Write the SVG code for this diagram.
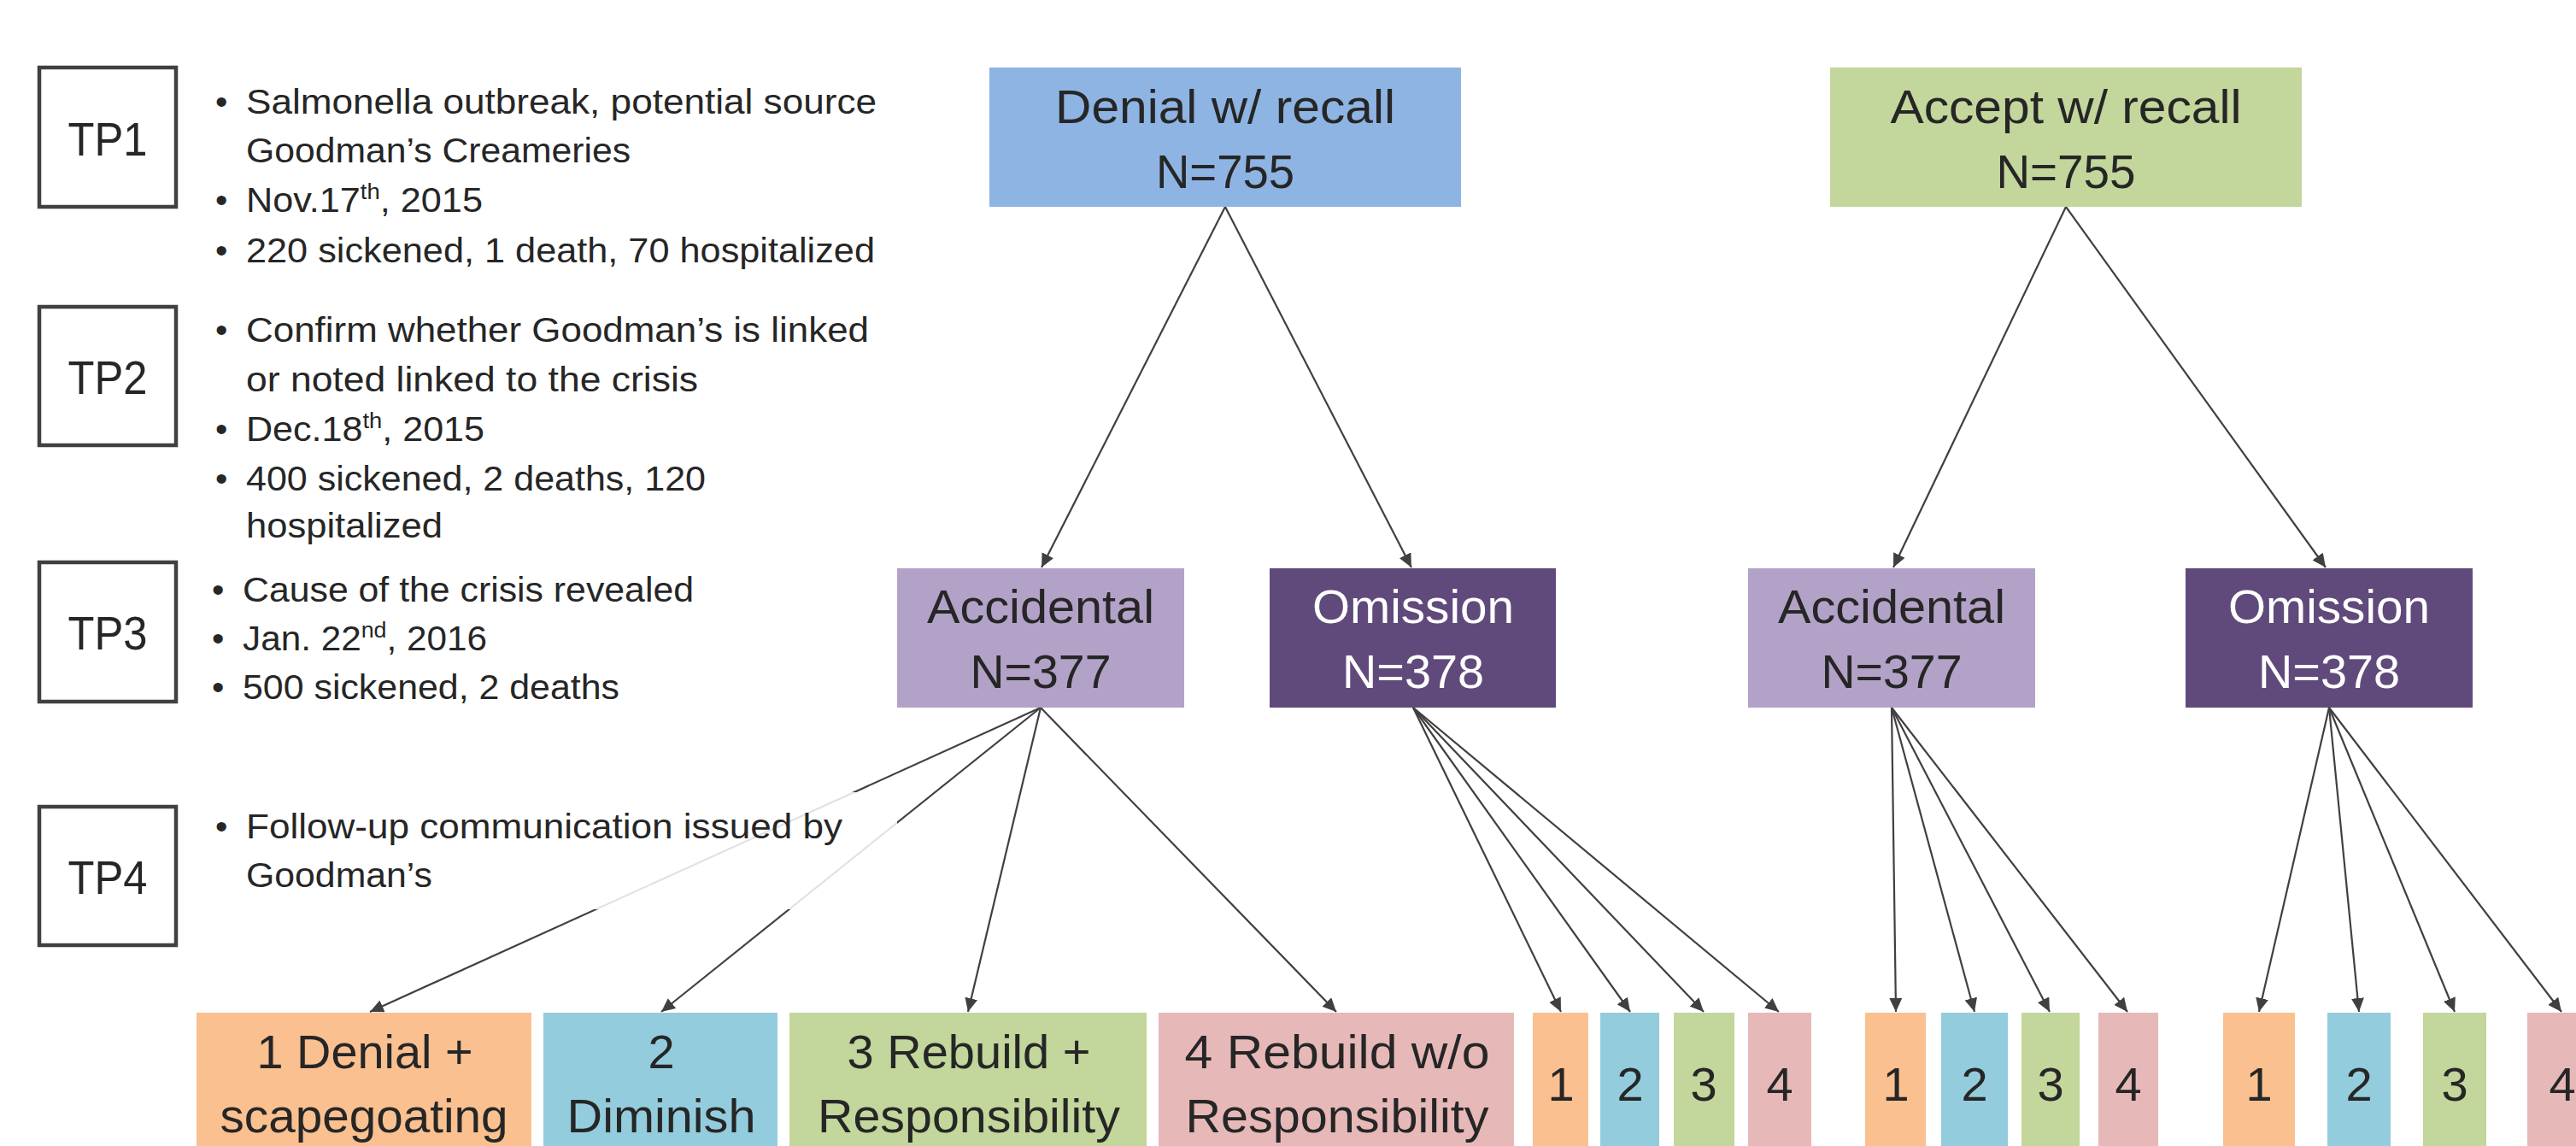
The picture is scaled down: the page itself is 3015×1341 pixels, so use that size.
<svg xmlns="http://www.w3.org/2000/svg" width="3015" height="1341" viewBox="0 0 3015 1341">
<defs>
<marker id="ah" markerUnits="userSpaceOnUse" markerWidth="16" markerHeight="15" refX="16" refY="7.5" orient="auto">
<path d="M0,0 L16,7.5 L0,15 z" fill="#404040"/>
</marker>
<style>
text{font-family:"Liberation Sans",Arial,sans-serif;fill:#262626}
.tp{font-size:56px;text-anchor:middle}
.tpbox{fill:none;stroke:#404040;stroke-width:4.5}
.b{font-size:41px}
.sup{font-size:26px}
.n{font-size:56px;text-anchor:middle}
.w{fill:#ffffff}
.con line{stroke:#404040;stroke-width:2.2;marker-end:url(#ah)}
</style>
</defs>
<rect width="3015" height="1341" fill="#ffffff"/>

<g id="connectors" class="con">
<line x1="1434" y1="242" x2="1219" y2="664"/>
<line x1="1434" y1="242" x2="1652" y2="664"/>
<line x1="2418" y1="242" x2="2216" y2="664"/>
<line x1="2418" y1="242" x2="2722" y2="664"/>
<line x1="1218" y1="828" x2="433" y2="1184"/>
<line x1="1218" y1="828" x2="774" y2="1184"/>
<line x1="1218" y1="828" x2="1133" y2="1184"/>
<line x1="1218" y1="828" x2="1564" y2="1184"/>
<line x1="1654" y1="828" x2="1827" y2="1184"/>
<line x1="1654" y1="828" x2="1908" y2="1184"/>
<line x1="1654" y1="828" x2="1994" y2="1184"/>
<line x1="1654" y1="828" x2="2082" y2="1184"/>
<line x1="2214" y1="828" x2="2219" y2="1184"/>
<line x1="2214" y1="828" x2="2311" y2="1184"/>
<line x1="2214" y1="828" x2="2399" y2="1184"/>
<line x1="2214" y1="828" x2="2490" y2="1184"/>
<line x1="2726" y1="828" x2="2644" y2="1184"/>
<line x1="2726" y1="828" x2="2761" y2="1184"/>
<line x1="2726" y1="828" x2="2873" y2="1184"/>
<line x1="2726" y1="828" x2="2998" y2="1184"/>
</g>

<g id="tp1">
<rect class="tpbox" x="46" y="79" width="160" height="163"/>
<text class="tp" x="126" y="182" textLength="93" lengthAdjust="spacingAndGlyphs">TP1</text>
</g>
<g id="tp1-notes">
<text class="b" x="252" y="133">•</text>
<text class="b" x="288" y="133" textLength="738" lengthAdjust="spacingAndGlyphs">Salmonella outbreak, potential source</text>
<text class="b" x="288" y="190" textLength="450" lengthAdjust="spacingAndGlyphs">Goodman’s Creameries</text>
<text class="b" x="252" y="248">•</text>
<text class="b" x="288" y="248" textLength="277" lengthAdjust="spacingAndGlyphs">Nov.17<tspan class="sup" dy="-15">th</tspan><tspan dy="15">, 2015</tspan></text>
<text class="b" x="252" y="307">•</text>
<text class="b" x="288" y="307" textLength="736" lengthAdjust="spacingAndGlyphs">220 sickened, 1 death, 70 hospitalized</text>
</g>

<g id="tp2">
<rect class="tpbox" x="46" y="359" width="160" height="162"/>
<text class="tp" x="126" y="461" textLength="93" lengthAdjust="spacingAndGlyphs">TP2</text>
</g>
<g id="tp2-notes">
<text class="b" x="252" y="400">•</text>
<text class="b" x="288" y="400" textLength="729" lengthAdjust="spacingAndGlyphs">Confirm whether Goodman’s is linked</text>
<text class="b" x="288" y="458" textLength="529" lengthAdjust="spacingAndGlyphs">or noted linked to the crisis</text>
<text class="b" x="252" y="516">•</text>
<text class="b" x="288" y="516" textLength="279" lengthAdjust="spacingAndGlyphs">Dec.18<tspan class="sup" dy="-15">th</tspan><tspan dy="15">, 2015</tspan></text>
<text class="b" x="252" y="574">•</text>
<text class="b" x="288" y="574" textLength="538" lengthAdjust="spacingAndGlyphs">400 sickened, 2 deaths, 120</text>
<text class="b" x="288" y="629" textLength="230" lengthAdjust="spacingAndGlyphs">hospitalized</text>
</g>

<g id="tp3">
<rect class="tpbox" x="46" y="658" width="160" height="163"/>
<text class="tp" x="126" y="760" textLength="93" lengthAdjust="spacingAndGlyphs">TP3</text>
</g>
<g id="tp3-notes">
<text class="b" x="248" y="704">•</text>
<text class="b" x="284" y="704" textLength="528" lengthAdjust="spacingAndGlyphs">Cause of the crisis revealed</text>
<text class="b" x="248" y="761">•</text>
<text class="b" x="284" y="761" textLength="286" lengthAdjust="spacingAndGlyphs">Jan. 22<tspan class="sup" dy="-15">nd</tspan><tspan dy="15">, 2016</tspan></text>
<text class="b" x="248" y="818">•</text>
<text class="b" x="284" y="818" textLength="441" lengthAdjust="spacingAndGlyphs">500 sickened, 2 deaths</text>
</g>

<g id="tp4">
<rect class="tpbox" x="46" y="944" width="160" height="162"/>
<text class="tp" x="126" y="1046" textLength="93" lengthAdjust="spacingAndGlyphs">TP4</text>
</g>
<g id="tp4-notes">
<rect x="250" y="927" width="800" height="137" fill="#ffffff" fill-opacity="0.85"/>
<text class="b" x="252" y="981">•</text>
<text class="b" x="288" y="981" textLength="698" lengthAdjust="spacingAndGlyphs">Follow-up communication issued by</text>
<text class="b" x="288" y="1038" textLength="218" lengthAdjust="spacingAndGlyphs">Goodman’s</text>
</g>

<g id="denial">
<rect x="1158" y="79" width="552" height="163" fill="#8EB4E3"/>
<text class="n" x="1434" y="144" textLength="398" lengthAdjust="spacingAndGlyphs">Denial w/ recall</text>
<text class="n" x="1434" y="220" textLength="162" lengthAdjust="spacingAndGlyphs">N=755</text>
</g>
<g id="accept">
<rect x="2142" y="79" width="552" height="163" fill="#C3D69B"/>
<text class="n" x="2418" y="144" textLength="411" lengthAdjust="spacingAndGlyphs">Accept w/ recall</text>
<text class="n" x="2418" y="220" textLength="163" lengthAdjust="spacingAndGlyphs">N=755</text>
</g>

<g id="accidental1">
<rect x="1050" y="665" width="336" height="163" fill="#B3A2C7"/>
<text class="n" x="1218" y="729" textLength="266" lengthAdjust="spacingAndGlyphs">Accidental</text>
<text class="n" x="1218" y="805" textLength="165" lengthAdjust="spacingAndGlyphs">N=377</text>
</g>
<g id="omission1">
<rect x="1486" y="665" width="335" height="163" fill="#604A7B"/>
<text class="n w" x="1654" y="729" textLength="236" lengthAdjust="spacingAndGlyphs">Omission</text>
<text class="n w" x="1654" y="805" textLength="166" lengthAdjust="spacingAndGlyphs">N=378</text>
</g>
<g id="accidental2">
<rect x="2046" y="665" width="336" height="163" fill="#B3A2C7"/>
<text class="n" x="2214" y="729" textLength="266" lengthAdjust="spacingAndGlyphs">Accidental</text>
<text class="n" x="2214" y="805" textLength="165" lengthAdjust="spacingAndGlyphs">N=377</text>
</g>
<g id="omission2">
<rect x="2558" y="665" width="336" height="163" fill="#604A7B"/>
<text class="n w" x="2726" y="729" textLength="236" lengthAdjust="spacingAndGlyphs">Omission</text>
<text class="n w" x="2726" y="805" textLength="166" lengthAdjust="spacingAndGlyphs">N=378</text>
</g>

<g id="a1-s1">
<rect x="230" y="1185" width="392" height="156" fill="#FAC090"/>
<text class="n" x="427" y="1250" textLength="253" lengthAdjust="spacingAndGlyphs">1 Denial +</text>
<text class="n" x="426" y="1325" textLength="337" lengthAdjust="spacingAndGlyphs">scapegoating</text>
</g>
<g id="a1-s2">
<rect x="636" y="1185" width="274" height="156" fill="#93CDDD"/>
<text class="n" x="774" y="1250">2</text>
<text class="n" x="774" y="1325" textLength="221" lengthAdjust="spacingAndGlyphs">Diminish</text>
</g>
<g id="a1-s3">
<rect x="924" y="1185" width="418" height="156" fill="#C3D69B"/>
<text class="n" x="1134" y="1250" textLength="285" lengthAdjust="spacingAndGlyphs">3 Rebuild +</text>
<text class="n" x="1134" y="1325" textLength="354" lengthAdjust="spacingAndGlyphs">Responsibility</text>
</g>
<g id="a1-s4">
<rect x="1356" y="1185" width="416" height="156" fill="#E6B9B8"/>
<text class="n" x="1565" y="1250" textLength="357" lengthAdjust="spacingAndGlyphs">4 Rebuild w/o</text>
<text class="n" x="1565" y="1325" textLength="355" lengthAdjust="spacingAndGlyphs">Responsibility</text>
</g>

<g id="o1-s1"><rect x="1794" y="1185" width="65" height="156" fill="#FAC090"/><text class="n" x="1827" y="1288">1</text></g>
<g id="o1-s2"><rect x="1873" y="1185" width="69" height="156" fill="#93CDDD"/><text class="n" x="1908" y="1288">2</text></g>
<g id="o1-s3"><rect x="1959" y="1185" width="71" height="156" fill="#C3D69B"/><text class="n" x="1994" y="1288">3</text></g>
<g id="o1-s4"><rect x="2046" y="1185" width="74" height="156" fill="#E6B9B8"/><text class="n" x="2083" y="1288">4</text></g>

<g id="a2-s1"><rect x="2183" y="1185" width="71" height="156" fill="#FAC090"/><text class="n" x="2219" y="1288">1</text></g>
<g id="a2-s2"><rect x="2272" y="1185" width="78" height="156" fill="#93CDDD"/><text class="n" x="2311" y="1288">2</text></g>
<g id="a2-s3"><rect x="2366" y="1185" width="68" height="156" fill="#C3D69B"/><text class="n" x="2400" y="1288">3</text></g>
<g id="a2-s4"><rect x="2456" y="1185" width="70" height="156" fill="#E6B9B8"/><text class="n" x="2491" y="1288">4</text></g>

<g id="o2-s1"><rect x="2602" y="1185" width="84" height="156" fill="#FAC090"/><text class="n" x="2644" y="1288">1</text></g>
<g id="o2-s2"><rect x="2724" y="1185" width="74" height="156" fill="#93CDDD"/><text class="n" x="2761" y="1288">2</text></g>
<g id="o2-s3"><rect x="2836" y="1185" width="74" height="156" fill="#C3D69B"/><text class="n" x="2873" y="1288">3</text></g>
<g id="o2-s4"><rect x="2958" y="1185" width="84" height="156" fill="#E6B9B8"/><text class="n" x="2999" y="1288">4</text></g>
</svg>
